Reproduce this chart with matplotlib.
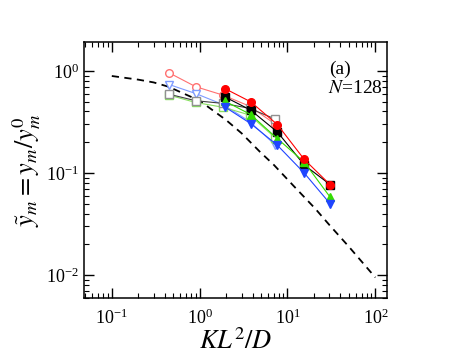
import numpy as np
import matplotlib
matplotlib.use('Agg')
import matplotlib.pyplot as plt

plt.rcParams['font.family'] = 'serif'
plt.rcParams['font.serif'] = ['Liberation Serif', 'DejaVu Serif']
plt.rcParams['mathtext.fontset'] = 'stix'

# open symbols (start at small KL^2/D)
x_open = [0.45, 0.9, 1.85, 3.7, 7.3]
y_red_open = [0.955, 0.70, 0.578, 0.451, 0.30]
y_gray_open = [0.59, 0.51, 0.48, 0.43, 0.336]
y_blue_open = [0.734, 0.60, 0.467, 0.32, 0.187]
y_green_open = [0.578, 0.49, 0.44, 0.37, 0.22]

# filled symbols
x_fill = [1.94, 3.82, 7.67, 15.5, 30.6]
y_red_fill = [0.67, 0.497, 0.298, 0.136, 0.0768]
y_black_fill = [0.556, 0.412, 0.252, 0.12, 0.077]
y_green_fill = [0.505, 0.373, 0.217, 0.128, 0.058]
y_blue_fill = [0.443, 0.304, 0.187, 0.10, 0.05]

# dashed theory curve
x_th = [0.1, 0.2, 0.3, 0.44, 1.0, 2.0, 3.0, 4.9, 7.0, 11.7, 20.6, 30, 50, 100]
y_th = [0.89, 0.82, 0.77, 0.70, 0.51, 0.33, 0.245, 0.16, 0.12, 0.075, 0.045, 0.031, 0.019, 0.0095]

fig = plt.figure(figsize=(4.63, 3.58), dpi=100)
ax = fig.add_axes([0.181, 0.168, 0.655, 0.715])

ax.plot(x_th, y_th, '--', color='black', lw=1.3, dashes=(4, 3))

ms = 5.5
ax.plot(x_open, y_red_open, '-o', color='#ff7070', lw=0.8, ms=ms, mfc='white', mec='#ff7070')
ax.plot(x_open, y_blue_open, '-v', color='#7f9cff', lw=0.8, ms=ms, mfc='white', mec='#7f9cff')
ax.plot(x_open, y_green_open, '-s', color='#88e060', lw=0.8, ms=ms, mfc='white', mec='#88e060')
ax.plot(x_open, y_gray_open, '-s', color='#404040', lw=0.8, ms=ms, mfc='white', mec='#909090')

ax.plot(x_fill, y_black_fill, '-s', color='black', lw=0.8, ms=ms)
ax.plot(x_fill, y_green_fill, '-^', color='#33dd00', lw=0.8, ms=ms)
ax.plot(x_fill, y_blue_fill, '-v', color='#1f45ff', lw=0.8, ms=ms)
ax.plot(x_fill, y_red_fill, '-o', color='#ff0000', lw=0.8, ms=ms)

ax.set_xscale('log')
ax.set_yscale('log')
ax.set_xlim(0.048, 136)
ax.set_ylim(0.006, 1.92)

ax.tick_params(which='both', direction='in', top=True, right=True, labelsize=13)
ax.tick_params(which='major', length=7, width=1)
ax.tick_params(which='minor', length=3.5, width=0.8)
ax.tick_params(axis='x', pad=8)
for s in ax.spines.values():
    s.set_linewidth(1.1)

ax.set_xlabel(r'$KL^2/D$', fontsize=19, labelpad=0)
ax.set_ylabel(r'$\tilde{y}_m = y_m/y_m^0$', fontsize=19, labelpad=2)

ax.text(0.845, 0.875, '(a)', transform=ax.transAxes, fontsize=14, ha='center')
ax.text(0.985, 0.80, r'$N$=128', transform=ax.transAxes, fontsize=14, ha='right')

fig.savefig('out.png', dpi=100)
